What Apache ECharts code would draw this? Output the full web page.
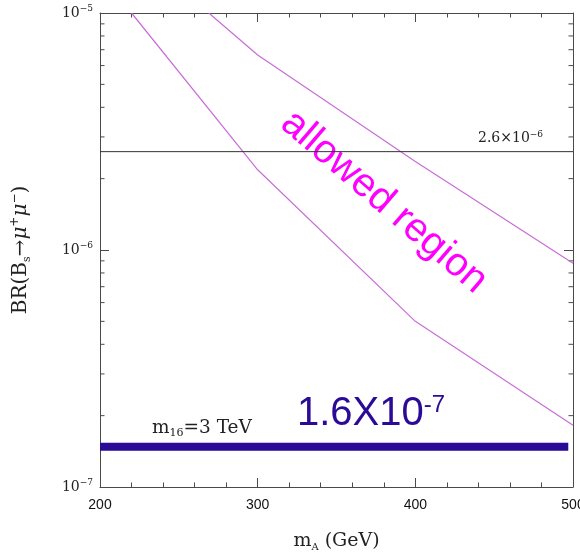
<!DOCTYPE html>
<html>
<head>
<meta charset="utf-8">
<script src="https://cdn.jsdelivr.net/npm/echarts@6/dist/echarts.min.js"></script>
<style>
  html, body { margin: 0; padding: 0; background: #fff; }
  #chart { width: 580px; height: 552px; }
</style>
</head>
<body>
<div id="chart"></div>
<script>
// axis ranges
const xMin = 200;
const xMax = 500;
const yMin = 1e-7;
const yMax = 1e-5;

// lower and upper bound curves of the allowed region
const massLow = [220, 300, 400, 500];
const brLow = [1e-5, 2.18e-6, 5.0e-7, 1.82e-7];
const massHigh = [269, 300, 400, 500];
const brHigh = [1e-5, 6.65e-6, 2.36e-6, 8.8e-7];

// experimental limit and the m16 = 3 TeV prediction
const limitMass = [200, 500];
const limitValue = 2.6e-6;
const predMass = [200, 497];
const predValue = 1.48e-7;

// minor ticks of the log axis
const minorYTicks = [
  2e-7, 3e-7, 4e-7, 5e-7, 6e-7, 7e-7, 8e-7, 9e-7,
  2e-6, 3e-6, 4e-6, 5e-6, 6e-6, 7e-6, 8e-6, 9e-6,
];

const axisColor = "#4a4a4a";
const curveColor = "#c86ed6";
const serif = "DejaVu Serif";
const sans = "Liberation Sans";

function pairs(xs, ys) {
  return xs.map((x, i) => [x, ys[i]]);
}

function expLabel(v) {
  const e = Math.round(Math.log10(v));
  return "{b|10}{s|\u2212" + Math.abs(e) + "}";
}

const chart = echarts.init(document.getElementById("chart"), null, {
  renderer: "canvas",
});

const xAxisBase = {
  type: "value",
  min: xMin,
  max: xMax,
  interval: 100,
  splitLine: { show: false },
  axisLine: { show: true, lineStyle: { color: axisColor, width: 1 } },
  axisTick: {
    show: true,
    inside: true,
    length: 9,
    lineStyle: { color: axisColor, width: 1 },
  },
  minorTick: {
    show: true,
    splitNumber: 5,
    length: 4.5,
    lineStyle: { color: axisColor, width: 1 },
  },
};

const yAxisBase = {
  type: "log",
  logBase: 10,
  min: yMin,
  max: yMax,
  splitLine: { show: false },
  axisLine: { show: true, lineStyle: { color: axisColor, width: 1 } },
  axisTick: {
    show: true,
    inside: true,
    length: 9,
    lineStyle: { color: axisColor, width: 1 },
  },
};

const option = {
  animation: false,
  grid: {
    left: 100,
    right: 7,
    top: 13,
    bottom: 65,
    containLabel: false,
    outerBoundsMode: "none",
  },
  xAxis: [
    Object.assign({}, xAxisBase, {
      position: "bottom",
      axisLabel: {
        color: "#111",
        fontFamily: sans,
        fontSize: 14,
        margin: 11,
      },
      name: "{a|m}{sub|A}{a| (GeV)}",
      nameLocation: "middle",
      nameGap: 43,
      nameTextStyle: {
        rich: {
          a: { fontFamily: serif, fontSize: 19, color: "#222", lineHeight: 22 },
          sub: {
            fontFamily: serif,
            fontSize: 10,
            color: "#222",
            lineHeight: 12,
            verticalAlign: "bottom",
          },
        },
      },
    }),
    Object.assign({}, xAxisBase, {
      position: "top",
      axisLabel: { show: false },
    }),
  ],
  yAxis: [
    Object.assign({}, yAxisBase, {
      position: "left",
      axisLabel: {
        formatter: expLabel,
        margin: 7,
        rich: {
          b: { fontFamily: serif, fontSize: 14, color: "#222", lineHeight: 18 },
          s: {
            fontFamily: serif,
            fontSize: 9,
            color: "#222",
            lineHeight: 11,
            verticalAlign: "top",
          },
        },
      },
      name: "{a|BR(B}{sub|s}{a|\u2192}{mu|\u03bc}{sup|+}{mu|\u03bc}{sup|\u2212}{a|)}",
      nameLocation: "middle",
      nameGap: 67,
      nameTextStyle: {
        rich: {
          a: { fontFamily: serif, fontSize: 20, color: "#222", lineHeight: 24 },
          mu: {
            fontFamily: serif,
            fontStyle: "italic",
            fontSize: 20,
            color: "#222",
            lineHeight: 24,
          },
          sub: {
            fontFamily: serif,
            fontSize: 11,
            color: "#222",
            lineHeight: 13,
            verticalAlign: "bottom",
          },
          sup: {
            fontFamily: serif,
            fontSize: 12,
            color: "#222",
            lineHeight: 13,
            verticalAlign: "top",
          },
        },
      },
    }),
    Object.assign({}, yAxisBase, {
      position: "right",
      axisLabel: { show: false },
    }),
  ],
  graphic: [
    {
      type: "text",
      left: 152,
      top: 419,
      style: {
        text: "{a|m}{sub|16}{a|=3 TeV}",
        rich: {
          a: { fontFamily: serif, fontSize: 18.5, fill: "#222", lineHeight: 21 },
          sub: {
            fontFamily: serif,
            fontSize: 11,
            fill: "#222",
            lineHeight: 12,
            verticalAlign: "bottom",
          },
        },
      },
    },
    {
      type: "text",
      left: 297,
      top: 393,
      style: {
        text: "{a|1.6X10}{s|-7}",
        rich: {
          a: { fontFamily: sans, fontSize: 40, fill: "#2a0a96", lineHeight: 42 },
          s: {
            fontFamily: sans,
            fontSize: 24,
            fill: "#2a0a96",
            lineHeight: 26,
            verticalAlign: "top",
          },
        },
      },
    },
    {
      type: "text",
      x: 384,
      y: 202,
      rotation: -0.71,
      style: {
        text: "allowed region",
        fontFamily: sans,
        fontSize: 40,
        fill: "#ff00ff",
        align: "center",
        verticalAlign: "middle",
      },
    },
    {
      type: "text",
      left: 478,
      top: 130,
      style: {
        text: "{a|2.6\u00d710}{s|\u22126}",
        rich: {
          a: { fontFamily: serif, fontSize: 14, fill: "#222", lineHeight: 17 },
          s: {
            fontFamily: serif,
            fontSize: 9,
            fill: "#222",
            lineHeight: 11,
            verticalAlign: "top",
          },
        },
      },
    },
  ],
  series: [
    {
      type: "line",
      data: pairs(massLow, brLow),
      symbol: "none",
      lineStyle: { color: curveColor, width: 1.2 },
    },
    {
      type: "line",
      data: pairs(massHigh, brHigh),
      symbol: "none",
      lineStyle: { color: curveColor, width: 1.2 },
    },
    {
      type: "line",
      data: limitMass.map((m) => [m, limitValue]),
      symbol: "none",
      lineStyle: { color: "#333", width: 1 },
    },
    {
      type: "line",
      data: predMass.map((m) => [m, predValue]),
      symbol: "none",
      lineStyle: { color: "#2a0a96", width: 8, cap: "butt" },
    },
    {
      // log-axis minor ticks, left and right
      type: "custom",
      data: minorYTicks.map((v) => [xMin, v]),
      clip: false,
      silent: true,
      renderItem: function (params, api) {
        const v = api.value(1);
        const l = api.coord([xMin, v]);
        const r = api.coord([xMax, v]);
        const style = { stroke: axisColor, lineWidth: 1 };
        return {
          type: "group",
          children: [
            {
              type: "line",
              shape: { x1: l[0], y1: l[1], x2: l[0] + 4.5, y2: l[1] },
              style: style,
            },
            {
              type: "line",
              shape: { x1: r[0], y1: r[1], x2: r[0] - 4.5, y2: r[1] },
              style: style,
            },
          ],
        };
      },
    },
  ],
};

chart.setOption(option);
</script>
</body>
</html>
